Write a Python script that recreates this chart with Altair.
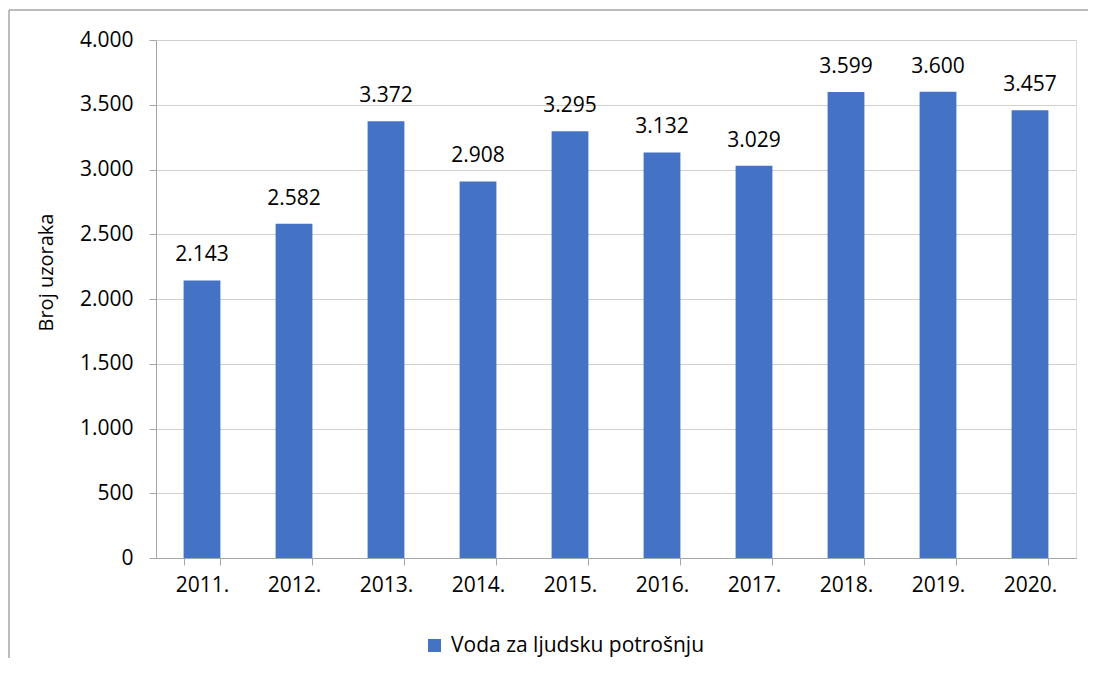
import altair as alt
import pandas as pd

years = ["2011.", "2012.", "2013.", "2014.", "2015.", "2016.", "2017.", "2018.", "2019.", "2020."]
values = [2143, 2582, 3372, 2908, 3295, 3132, 3029, 3599, 3600, 3457]
series_name = "Voda za ljudsku potrošnju"
y_ticks = [0, 500, 1000, 1500, 2000, 2500, 3000, 3500, 4000]

df = pd.DataFrame({"year": years, "value": values, "series": series_name})
df["label"] = [f"{v:,}".replace(",", ".") for v in values]

FONT = "Open Sans"
GRAY = "#a6a6a6"
GRID = "#d0d0d0"
BLUE = "#4472C4"
FS = 21

x_enc = alt.X("year:N", sort=years, title=None,
              scale=alt.Scale(paddingInner=0.6, paddingOuter=0.3),
              axis=alt.Axis(labelAngle=0, labelFontSize=FS, labelFont=FONT, labelColor="#000000",
                            tickSize=7, tickColor=GRAY, domainColor=GRAY, tickBand="extent",
                            labelPadding=9, grid=False))
y_enc = alt.Y("value:Q", title="Broj uzoraka",
              scale=alt.Scale(domain=[0, 4000], nice=False),
              axis=alt.Axis(values=y_ticks, labelExpr="replace(format(datum.value, ','), ',', '.')",
                            labelFontSize=FS, labelFont=FONT, labelColor="#000000",
                            tickSize=7, tickColor=GRAY, domainColor=GRAY, labelPadding=16,
                            gridColor=GRID, titleFont=FONT, titleFontSize=20, titleFontWeight="normal",
                            titleColor="#000000", titleX=-110, titleY=232, titleAngle=-90,
                            titleBaseline="middle", titleAlign="center"))

bars = alt.Chart(df).mark_bar(color=BLUE).encode(
    x=x_enc, y=y_enc,
    color=alt.Color("series:N", scale=alt.Scale(range=[BLUE]),
                    legend=alt.Legend(title=None, orient="none", legendX=268, legendY=595,
                                      symbolType="square", symbolSize=170, symbolStrokeWidth=0,
                                      labelFont=FONT, labelFontSize=FS, labelColor="#000000",
                                      labelLimit=0, padding=0, labelOffset=6))
)

labels = alt.Chart(df).mark_text(font=FONT, fontSize=FS, color="#000000", baseline="alphabetic",
                                 dy=-19).encode(
    x=alt.X("year:N", sort=years), y="value:Q", text="label:N")

one = alt.Data(values=[{"a": 1}])
top_rule = alt.Chart(one).mark_rule(color=GRAY, strokeWidth=1.5).encode(
    x=alt.value(-147), x2=alt.value(1200), y=alt.value(-30))
left_rule = alt.Chart(one).mark_rule(color=GRAY, strokeWidth=1.5).encode(
    x=alt.value(-147), y=alt.value(-30), y2=alt.value(900))

chart = alt.layer(bars, labels, top_rule, left_rule).properties(
    width=920, height=518,
    autosize=alt.AutoSizeParams(type="none"),
    padding={"left": 148, "top": 32, "right": 12, "bottom": 100},
).configure_view(stroke=GRAY, strokeWidth=1).configure(background="white")

chart.save("out.html", embed_options={"renderer": "svg", "actions": False})
